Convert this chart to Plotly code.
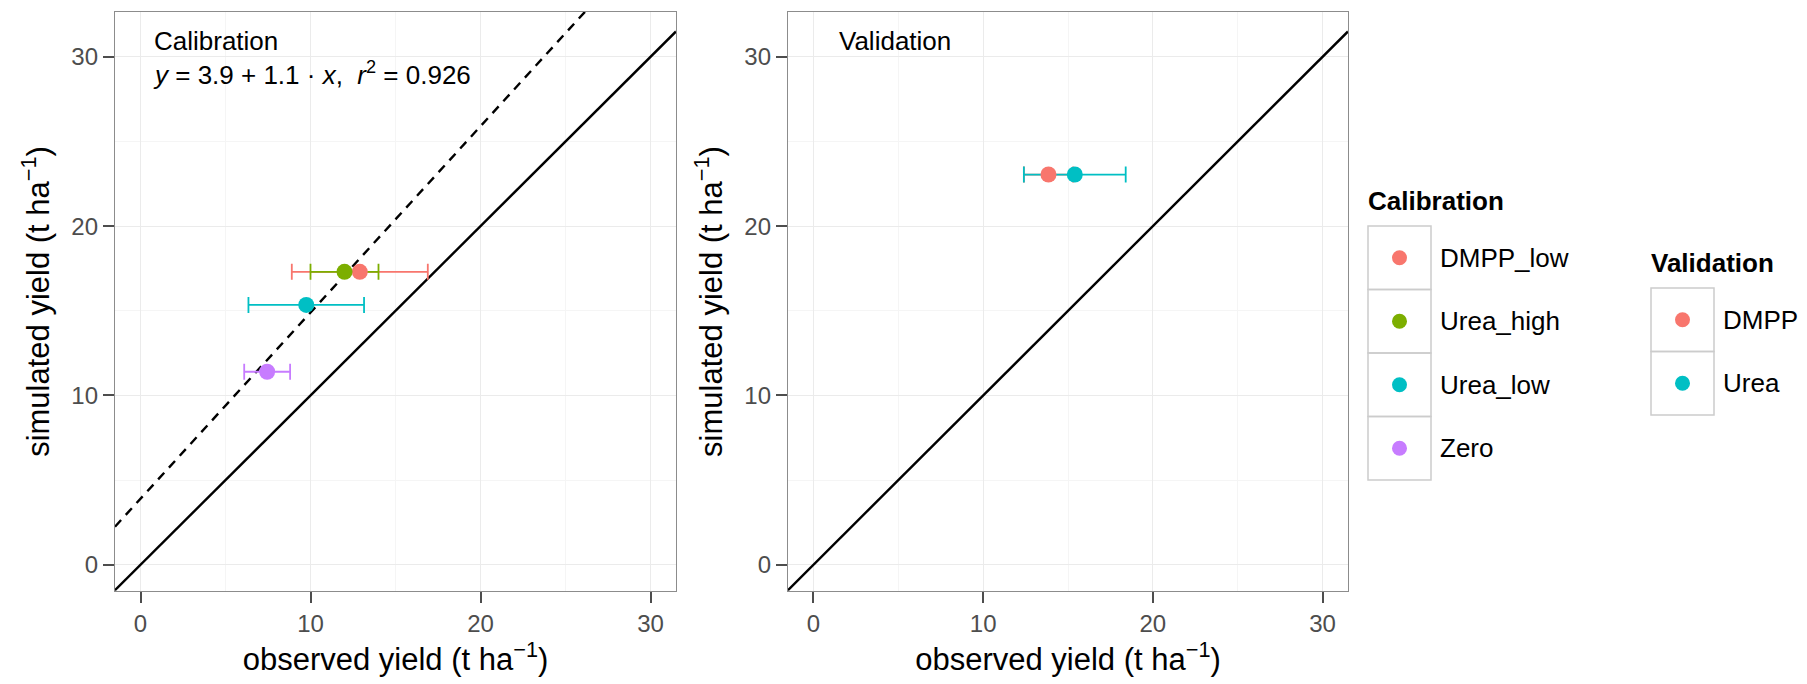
import plotly.graph_objects as go

# ---------------- data ----------------
cal_groups = ["DMPP_low", "Urea_high", "Urea_low", "Zero"]
cal_observed = [12.9, 12.0, 9.75, 7.45]
cal_observed_err = [4.0, 2.0, 3.4, 1.35]
cal_simulated = [17.3, 17.3, 15.35, 11.4]
cal_colors = ["#F8766D", "#7CAE00", "#00BFC4", "#C77CFF"]

val_groups = ["DMPP", "Urea"]
val_observed = [13.85, 15.4]
val_observed_err = [1.45, 3.0]
val_simulated = [23.05, 23.05]
val_colors = ["#F8766D", "#00BFC4"]

fit_intercept = 3.9
fit_slope = 1.1
fit_r2 = 0.926

axis_ticks = [0, 10, 20, 30]
x_range = [-1.5, 31.5]
y_range = [-1.55, 32.65]

FONT = "Liberation Sans, Arial, Helvetica, sans-serif"
W, H = 1807, 684
OFF = 8  # page body margin of the default html page


def px_x(v):
    return (v - OFF) / W


def px_y(v):
    return 1 - (v - OFF) / H


fig = go.Figure()


def add_panel(xa, ya, groups, obs, err, sim, colors, fit=None):
    lx = list(x_range)
    fig.add_trace(go.Scatter(x=lx, y=lx, mode="lines", xaxis=xa, yaxis=ya,
                             line=dict(color="black", width=2.4),
                             showlegend=False, hoverinfo="skip"))
    if fit is not None:
        a, b = fit
        fig.add_trace(go.Scatter(x=lx, y=[a + b * v for v in lx], mode="lines",
                                 xaxis=xa, yaxis=ya,
                                 line=dict(color="black", width=2.4, dash="9px,7px"),
                                 showlegend=False, hoverinfo="skip"))
    # error bars first (below all points, like ggplot layers)
    for g, o, e, s, c in zip(groups, obs, err, sim, colors):
        fig.add_trace(go.Scatter(x=[o], y=[s], mode="markers", xaxis=xa, yaxis=ya,
                                 marker=dict(size=1, color=c, opacity=0),
                                 error_x=dict(type="data", array=[e], color=c,
                                              thickness=1.8, width=8),
                                 showlegend=False, hoverinfo="skip"))
    for g, o, e, s, c in zip(groups, obs, err, sim, colors):
        fig.add_trace(go.Scatter(x=[o], y=[s], mode="markers", xaxis=xa, yaxis=ya,
                                 name=g, marker=dict(size=16, color=c),
                                 showlegend=False))


add_panel("x", "y", cal_groups, cal_observed, cal_observed_err, cal_simulated,
          cal_colors, fit=(fit_intercept, fit_slope))
add_panel("x2", "y2", val_groups, val_observed, val_observed_err, val_simulated,
          val_colors)

# ---------------- manual ggplot-style legends (pixel-coordinate overlay axis) ----
row_h = 63.5
key_w = 63
cal_key_x0, cal_top = 1368, 226
val_key_x0, val_top = 1651, 288


def add_legend(title, groups, colors, key_x0, top, title_y):
    xs = [key_x0 + key_w / 2] * len(groups)
    ys = [top + row_h * (i + 0.5) for i in range(len(groups))]
    for i in range(len(groups)):
        fig.add_shape(type="rect", xref="x3", yref="y3",
                      x0=key_x0, x1=key_x0 + key_w,
                      y0=top + row_h * i, y1=top + row_h * (i + 1),
                      line=dict(color="#CCCCCC", width=1.5),
                      fillcolor="rgba(0,0,0,0)", layer="below")
    fig.add_trace(go.Scatter(x=xs, y=ys, mode="markers", xaxis="x3", yaxis="y3",
                             marker=dict(size=15, color=colors),
                             showlegend=False, hoverinfo="skip"))
    for g, y in zip(groups, ys):
        fig.add_annotation(x=key_x0 + key_w + 7, y=y, xref="x3", yref="y3",
                           text=g, showarrow=False, xanchor="left",
                           yanchor="middle",
                           font=dict(family=FONT, size=26, color="black"))
    fig.add_annotation(x=key_x0 - 2, y=title_y, xref="x3", yref="y3",
                       text="<b>" + title + "</b>", showarrow=False,
                       xanchor="left", yanchor="middle",
                       font=dict(family=FONT, size=26, color="black"))


add_legend("Calibration", cal_groups, cal_colors, cal_key_x0, cal_top, 201)
add_legend("Validation", val_groups, val_colors, val_key_x0, val_top, 263)

# ---------------- panel annotations ----------------
fig.add_annotation(x=px_x(152), y=px_y(41), xref="paper", yref="paper",
                   text="Calibration", showarrow=False, xanchor="left",
                   yanchor="middle", font=dict(family=FONT, size=26, color="black"))
eq = ("<i>y</i> = %.1f + %.1f · <i>x</i>,  <i>r</i><sup>2</sup> = %.3f"
      % (fit_intercept, fit_slope, fit_r2))
fig.add_annotation(x=px_x(151), y=px_y(73), xref="paper", yref="paper",
                   text=eq, showarrow=False, xanchor="left", yanchor="middle",
                   font=dict(family=FONT, size=26, color="black"))
fig.add_annotation(x=px_x(837), y=px_y(41), xref="paper", yref="paper",
                   text="Validation", showarrow=False, xanchor="left",
                   yanchor="middle", font=dict(family=FONT, size=26, color="black"))

# ---------------- axes ----------------
ax_common = dict(range=x_range, tickvals=axis_ticks, ticks="outside", ticklen=11,
                 tickwidth=1.6, tickcolor="#4D4D4D",
                 tickfont=dict(family=FONT, size=24, color="#4D4D4D"),
                 showgrid=True, gridcolor="#EBEBEB", gridwidth=1.2,
                 minor=dict(tickvals=[5, 15, 25], showgrid=True,
                            gridcolor="#F5F5F5", gridwidth=1, ticks=""),
                 zeroline=False, showline=True, mirror=True,
                 linecolor="#8C8C8C", linewidth=1.3)
xt = dict(text="observed yield (t ha<sup>−1</sup>)",
          font=dict(family=FONT, size=31, color="black"), standoff=12)
yt = dict(text="simulated yield (t ha<sup>−1</sup>)",
          font=dict(family=FONT, size=31, color="black"), standoff=12)

y_dom = [px_y(591), px_y(12)]
fig.update_layout(
    xaxis=dict(ax_common, domain=[px_x(115), px_x(676)], anchor="y", title=xt),
    yaxis=dict(ax_common, range=y_range, domain=y_dom, anchor="x", title=yt),
    xaxis2=dict(ax_common, domain=[px_x(788), px_x(1348)], anchor="y2", title=xt),
    yaxis2=dict(ax_common, range=y_range, domain=y_dom, anchor="x2", title=yt),
    xaxis3=dict(domain=[0, 1], range=[OFF, W + OFF], visible=False, anchor="y3",
                fixedrange=True, showgrid=False),
    yaxis3=dict(domain=[0, 1], range=[H + OFF, OFF], visible=False, anchor="x3",
                fixedrange=True, showgrid=False),
    width=W, height=H, autosize=False,
    margin=dict(l=0, r=0, t=0, b=0),
    paper_bgcolor="white", plot_bgcolor="rgba(0,0,0,0)",
    showlegend=False,
    font=dict(family=FONT),
)

fig.write_html("out.html")
